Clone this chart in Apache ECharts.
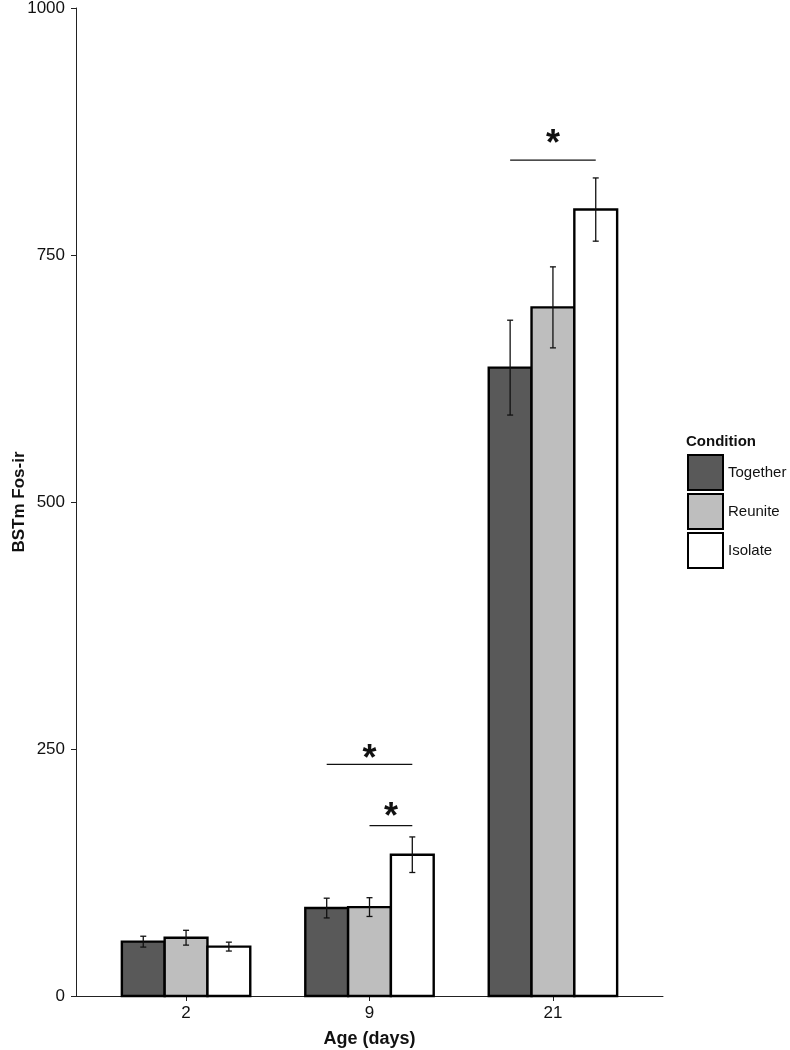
<!DOCTYPE html>
<html>
<head>
<meta charset="utf-8">
<script src="https://cdn.jsdelivr.net/npm/echarts@6/dist/echarts.min.js"></script>
<style>html,body{margin:0;padding:0;background:#fff}#c{width:790px;height:1050px}</style>
</head>
<body>
<div id="c"></div>
<script>
// ---- data ----
const categories = ['2', '9', '21'];
const conditions = ['Together', 'Reunite', 'Isolate'];
const together = [55, 89, 636];
const togetherErr = [5.5, 10, 48];
const reunite = [59, 90, 697];
const reuniteErr = [7.5, 9.5, 41];
const isolate = [50, 143, 796];
const isolateErr = [4.5, 18, 32];
const yTicks = [0, 250, 500, 750, 1000];
// significance brackets: [category index, from condition, to condition, line value, star value]
const sigBrackets = [
  [2, 0, 2, 846, 870],
  [1, 0, 2, 234.5, 248],
  [1, 1, 2, 172.5, 189]
];

// ---- styles ----
const FONT = '"Liberation Sans", Arial, Helvetica, sans-serif';
const fills = ['#595959', '#bebebe', '#ffffff'];
const barW = 0.7 / 3;
const values = [together, reunite, isolate];
const errs = [togetherErr, reuniteErr, isolateErr];

function makeRender(k) {
  return function (params, api) {
    const x = api.value(0) + (k - 1) * barW;
    const y = api.value(1);
    const e = api.value(2);
    const tl = api.coord([x - barW / 2, y]);
    const br = api.coord([x + barW / 2, 0]);
    const c = api.coord([x, y]);
    const eT = api.coord([x, y + e]);
    const eB = api.coord([x, y - e]);
    const cap = 3;
    return {
      type: 'group',
      children: [
        { type: 'rect', shape: { x: tl[0], y: tl[1], width: br[0] - tl[0], height: br[1] - tl[1] },
          style: { fill: fills[k], stroke: '#000', lineWidth: 2.4 } },
        { type: 'line', shape: { x1: c[0], y1: eT[1], x2: c[0], y2: eB[1] }, style: { stroke: '#111', lineWidth: 1.3 } },
        { type: 'line', shape: { x1: c[0] - cap, y1: eT[1], x2: c[0] + cap, y2: eT[1] }, style: { stroke: '#111', lineWidth: 1.3 } },
        { type: 'line', shape: { x1: c[0] - cap, y1: eB[1], x2: c[0] + cap, y2: eB[1] }, style: { stroke: '#111', lineWidth: 1.3 } }
      ]
    };
  };
}

const series = conditions.map((name, k) => ({
  name: name,
  type: 'custom',
  renderItem: makeRender(k),
  itemStyle: { color: fills[k], borderColor: '#000', borderWidth: 2 },
  encode: { x: 0, y: 1 },
  data: categories.map((c, i) => [i + 1, values[k][i], errs[k][i]]),
  z: 2
}));

series.push({
  name: 'sig',
  type: 'custom',
  silent: true,
  encode: { x: 0, y: 3 },
  data: sigBrackets.map(s => [s[0] + 1, s[1], s[2], s[3], s[4]]),
  renderItem: function (params, api) {
    const cx = api.value(0);
    const x1 = cx + (api.value(1) - 1) * barW;
    const x2 = cx + (api.value(2) - 1) * barW;
    const p1 = api.coord([x1, api.value(3)]);
    const p2 = api.coord([x2, api.value(3)]);
    const ps = api.coord([(x1 + x2) / 2, api.value(4)]);
    return {
      type: 'group',
      children: [
        { type: 'line', shape: { x1: p1[0], y1: p1[1], x2: p2[0], y2: p2[1] }, style: { stroke: '#111', lineWidth: 1.2 } },
        { type: 'text', x: ps[0], y: ps[1] + 9,
          style: { text: '*', font: 'bold 36px ' + FONT, fill: '#111', align: 'center', verticalAlign: 'middle' } }
      ]
    };
  },
  z: 3
});

const chart = echarts.init(document.getElementById('c'), null, { renderer: 'canvas' });
chart.setOption({
  animation: false,
  backgroundColor: '#fff',
  grid: { left: 76, top: 8, width: 587, height: 988, containLabel: false, outerBoundsMode: 'none' },
  xAxis: {
    type: 'value', min: 0.4, max: 3.6,
    splitLine: { show: false },
    axisLine: { show: true, lineStyle: { color: '#222', width: 1 } },
    axisTick: { show: true, customValues: [1, 2, 3], length: 5, lineStyle: { color: '#222' } },
    axisLabel: { customValues: [1, 2, 3], formatter: v => categories[Math.round(v) - 1], color: '#111',
      fontSize: 17, fontFamily: FONT, margin: 9 },
    name: 'Age (days)', nameLocation: 'middle', nameGap: 34, nameMoveOverlap: false,
    nameTextStyle: { fontSize: 18, fontWeight: 'bold', color: '#111', fontFamily: FONT }
  },
  yAxis: {
    type: 'value', min: 0, max: 1000, interval: 250,
    splitLine: { show: false },
    axisLine: { show: true, lineStyle: { color: '#222', width: 1 } },
    axisTick: { show: true, length: 5, lineStyle: { color: '#222' } },
    axisLabel: { color: '#111', fontSize: 17, fontFamily: FONT, margin: 11,
      formatter: v => (yTicks.indexOf(v) >= 0 ? String(v) : '') },
    name: 'BSTm Fos-ir', nameLocation: 'middle', nameGap: 48, nameRotate: 90, nameMoveOverlap: false,
    nameTextStyle: { fontSize: 17, fontWeight: 'bold', color: '#111', fontFamily: FONT }
  },
  legend: {
    show: true, orient: 'vertical', left: 687, top: 454, padding: 0,
    itemWidth: 35, itemHeight: 35, itemGap: 2,
    icon: 'rect',
    data: conditions.map((n, k) => ({ name: n, icon: 'rect',
      itemStyle: { color: fills[k], borderColor: '#000', borderWidth: 2 } })),
    textStyle: { fontSize: 15, color: '#111', fontFamily: FONT },
    selectedMode: false
  },
  graphic: [{
    type: 'text', left: 686, top: 434,
    style: { text: 'Condition', font: 'bold 15px ' + FONT, fill: '#111' }
  }],
  series: series
});
</script>
</body>
</html>
